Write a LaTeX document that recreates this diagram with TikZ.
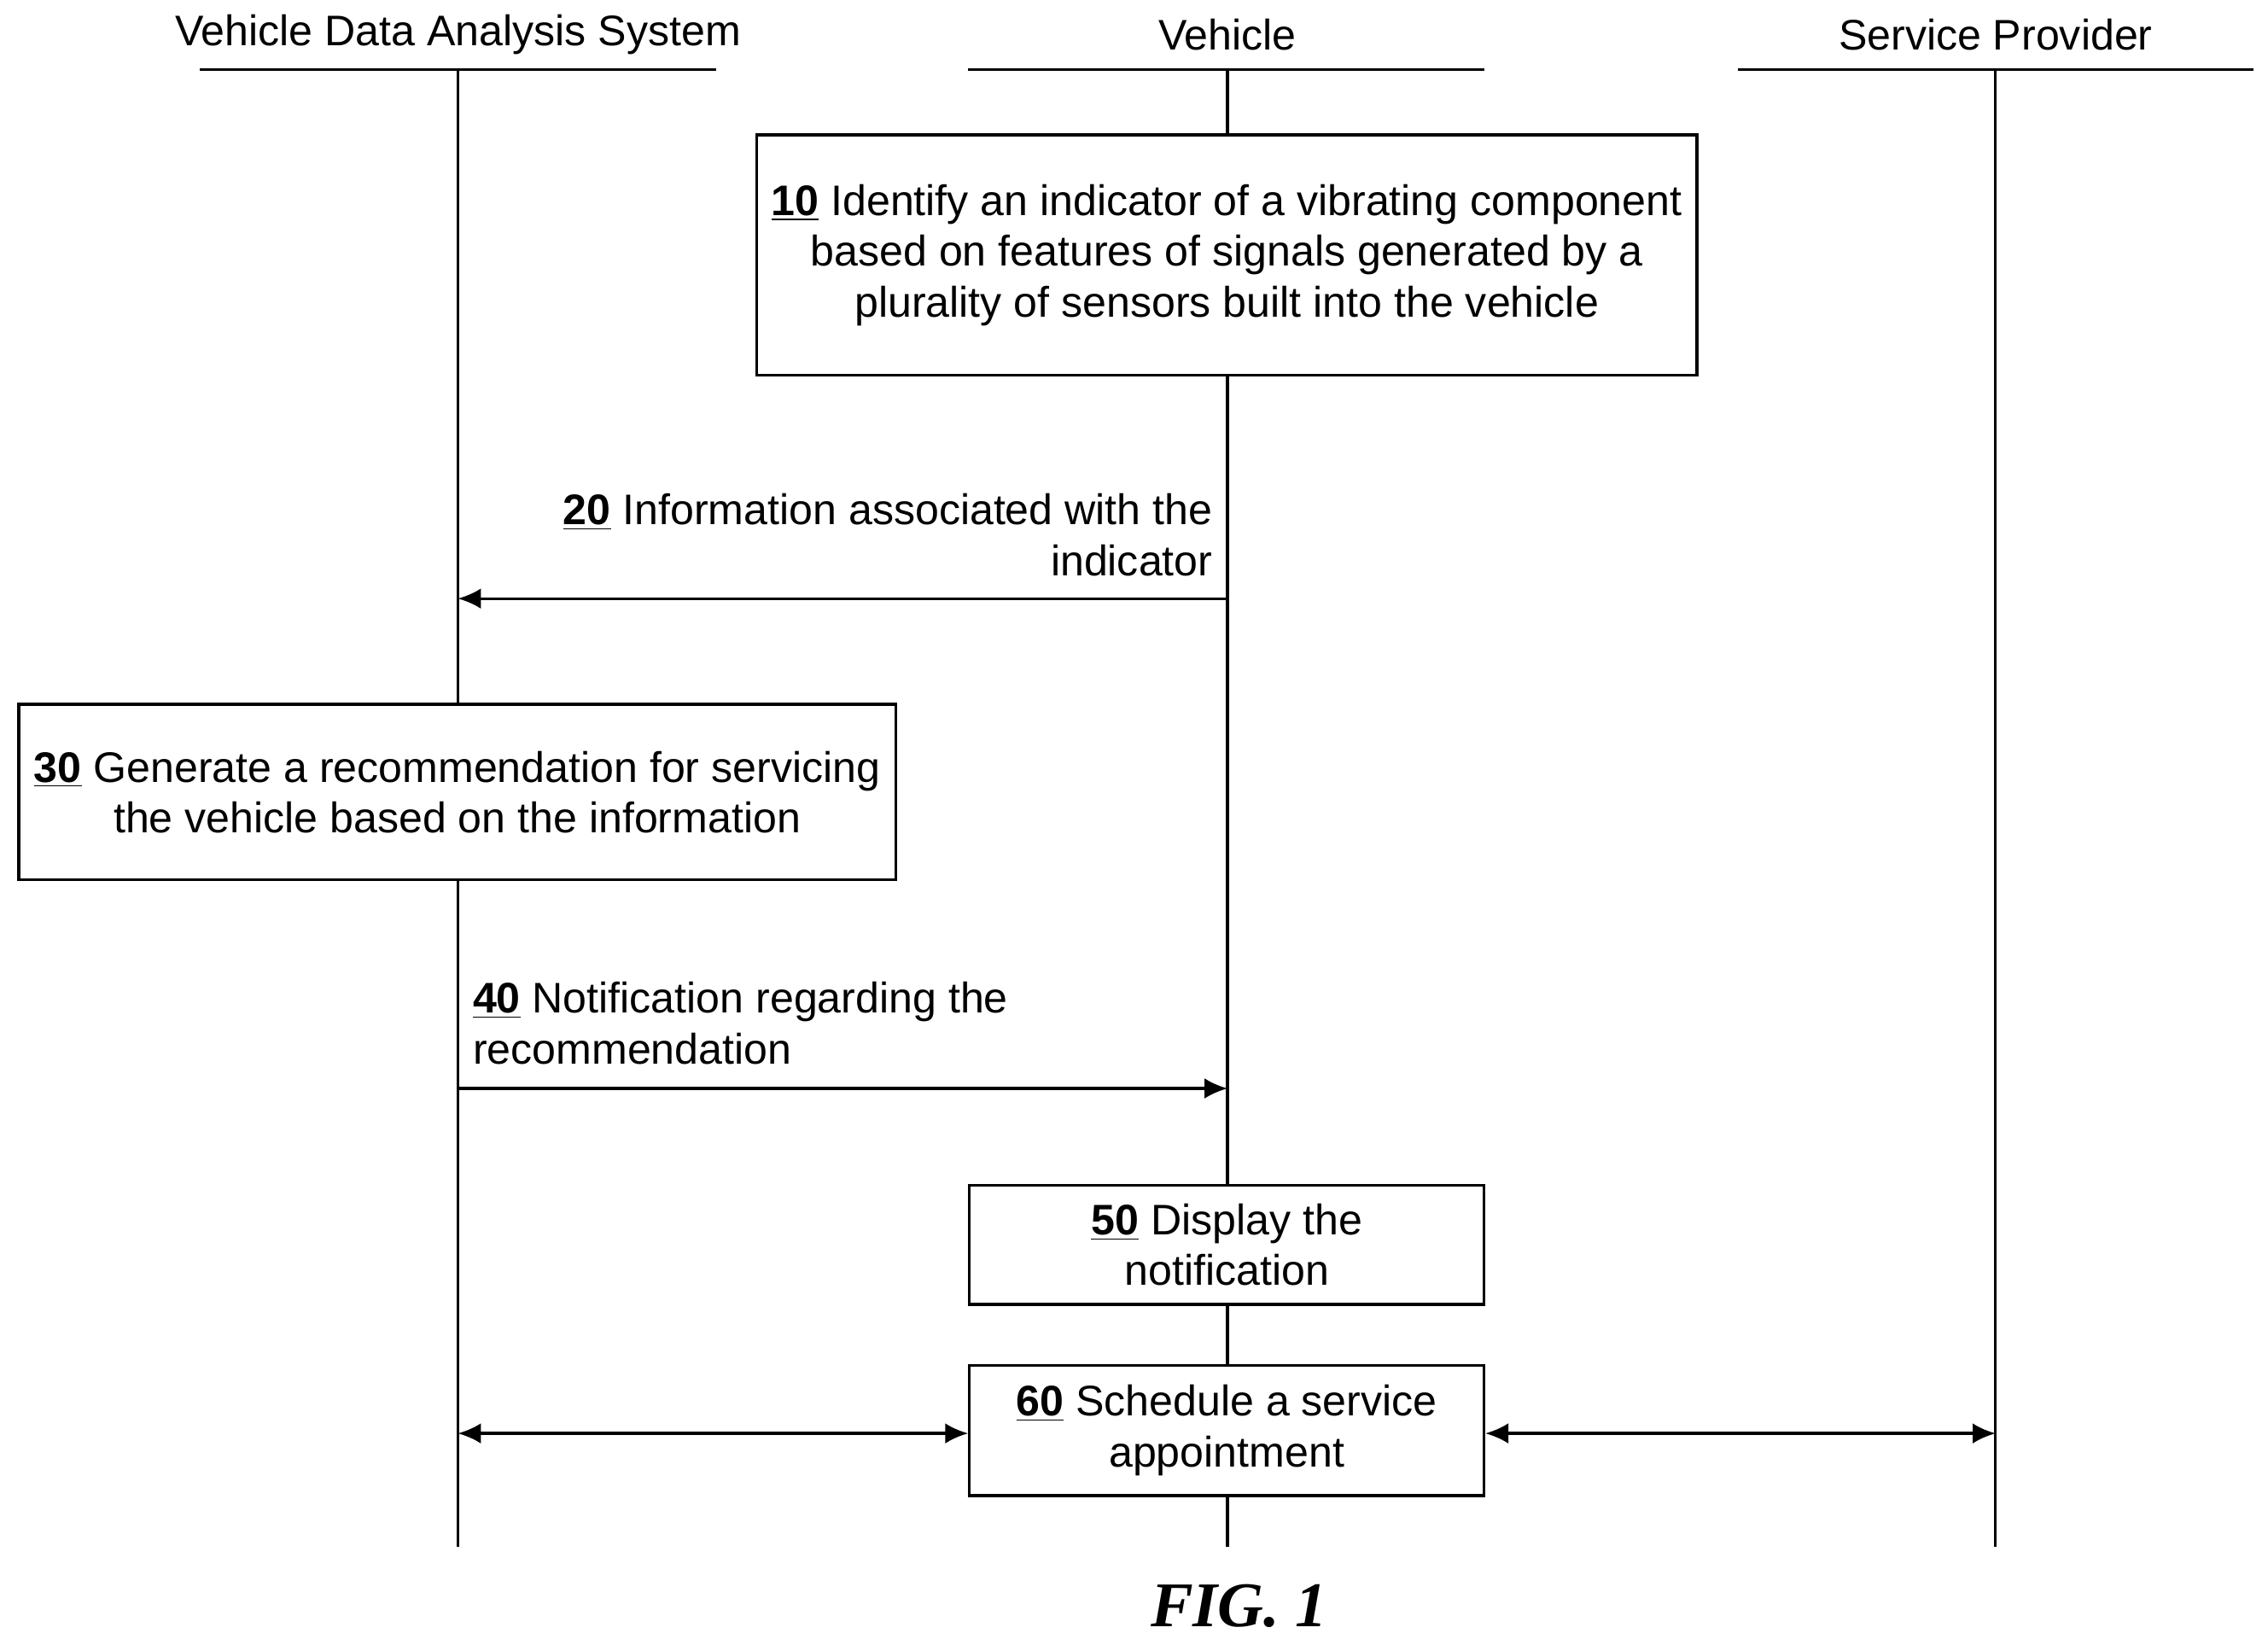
\documentclass[tikz,border=0pt]{standalone}
\usepackage{fontspec}
\setmainfont{Liberation Sans}
\newfontfamily\figfont{Liberation Serif}
\usetikzlibrary{arrows.meta}
\begin{document}
\begin{tikzpicture}[x=0.02cm,y=-0.02cm,
  every node/.style={font=\fontsize{16.8}{19.9}\selectfont,inner sep=0pt},
  ln/.style={line width=1.1pt},
  box/.style={draw,line width=1.1pt,align=center},
  arr/.style={line width=1.1pt,-{Latex[length=9pt,width=8pt]}},
  darr/.style={line width=1.1pt,{Latex[length=9pt,width=8pt]}-{Latex[length=9pt,width=8pt]}}]
\useasboundingbox (0,0) rectangle (1565,1134.5);
% headers
\node (hA) at (316,24) {Vehicle Data Analysis System};
\node (hB) at (847,24) {Vehicle};
\node (hC) at (1377,24) {Service Provider};
\draw[ln] (138,48) -- (494,48);
\draw[ln] (668,48) -- (1024,48);
\draw[ln] (1199,48) -- (1555,48);
\coordinate (a0) at (316,48); \coordinate (a1) at (316,1067);
\coordinate (b0) at (847,48); \coordinate (b1) at (847,1067);
\coordinate (c0) at (1377,48); \coordinate (c1) at (1377,1067);
\draw[ln] (a0) -- (a1);
\draw[ln] (b0) -- (b1);
\draw[ln] (c0) -- (c1);
% boxes
\node[box,fill=white,minimum width=649*0.02cm,minimum height=166*0.02cm] (n10) at (846.5,176)
 {\underline{\textbf{10}} Identify an indicator of a vibrating component\\based on features of signals generated by a\\plurality of sensors built into the vehicle};
\node[box,fill=white,minimum width=605*0.02cm,minimum height=121*0.02cm] (n30) at (315.5,546.5)
 {\underline{\textbf{30}} Generate a recommendation for servicing\\the vehicle based on the information};
\node[box,fill=white,minimum width=355*0.02cm,minimum height=82*0.02cm] (n50) at (846.5,859)
 {\underline{\textbf{50}} Display the\\notification};
\node[box,fill=white,minimum width=355*0.02cm,minimum height=90*0.02cm] (n60) at (846.5,987)
 {\underline{\textbf{60}} Schedule a service\\appointment};
% messages
\coordinate (m20s) at (847,413); \coordinate (m20e) at (316,413);
\draw[arr] (m20s) -- (m20e);
\node[anchor=east,align=right] (l20) at (837,369) {\underline{\textbf{20}} Information associated with the\\indicator};
\coordinate (m40s) at (316,751); \coordinate (m40e) at (847,751);
\draw[arr] (m40s) -- (m40e);
\node[anchor=west,align=left] (l40) at (326,706) {\underline{\textbf{40}} Notification regarding the\\recommendation};
\coordinate (m60a) at (316,989); \coordinate (m60c) at (1377,989);
\draw[darr] (m60a) -- (n60.west |- m60a);
\draw[darr] (n60.east |- m60c) -- (m60c);
\node (fig) at (855,1108) {\figfont\fontsize{25}{30}\selectfont\bfseries\itshape FIG. 1};
\end{tikzpicture}
\end{document}
